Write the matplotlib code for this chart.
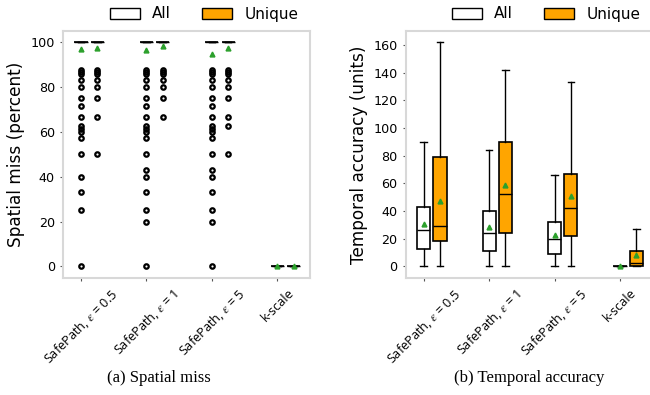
import matplotlib
matplotlib.use("Agg")
import matplotlib.pyplot as plt
from matplotlib.patches import Patch

plt.rcParams['mathtext.fontset'] = 'stix'

categories = ["SafePath, $\\varepsilon$ = 0.5", "SafePath, $\\varepsilon$ = 1",
              "SafePath, $\\varepsilon$ = 5", "k-scale"]
series = ["All", "Unique"]

# Spatial miss (percent): boxes collapse to a single value
spatial_all_level = [100, 100, 100, 0]
spatial_unique_level = [100, 100, 100, 0]
spatial_all_mean = [96.9, 96.6, 94.6, 0]
spatial_unique_mean = [97.5, 98.2, 97.6, 0]
spatial_all_fliers = [
    [87.5, 86.7, 85.7, 83.3, 80, 75, 71.4, 66.7, 62.5, 61.5, 60, 57.1, 50, 40, 33.3, 25, 0],
    [87.5, 86.7, 85.7, 83.3, 80, 75, 71.4, 66.7, 62.5, 61.5, 60, 57.1, 50, 42.9, 40, 33.3, 25, 20, 0],
    [87.5, 86.7, 85.7, 83.3, 80, 75, 71.4, 66.7, 62.5, 61.5, 60, 57.1, 50, 42.9, 40, 33.3, 25, 20, 0],
    [],
]
spatial_unique_fliers = [
    [87.5, 86.7, 85.7, 83.3, 80, 75, 66.7, 50],
    [87.5, 86.7, 85.7, 83.3, 80, 75, 66.7],
    [87.5, 86.7, 85.7, 83.3, 80, 75, 66.7, 62.5, 50],
    [],
]

# Temporal accuracy (units)
temporal_all_whislo = [0, 0, 0, 0]
temporal_all_q1 = [12.3, 11.3, 9.2, 0]
temporal_all_med = [26.3, 24.1, 20.2, 0]
temporal_all_q3 = [43.1, 40.2, 32.0, 0]
temporal_all_whishi = [90.1, 84.3, 66.3, 0]
temporal_all_mean = [30.4, 28.4, 23.1, 0]

temporal_unique_whislo = [0, 0, 0, 0]
temporal_unique_q1 = [18.1, 24.3, 22.2, 0]
temporal_unique_med = [28.9, 52.5, 41.9, 2.2]
temporal_unique_q3 = [79.0, 89.9, 66.5, 11.1]
temporal_unique_whishi = [161.9, 141.9, 133.3, 27.0]
temporal_unique_mean = [47.0, 58.8, 51.1, 8.0]

colors = {"All": "white", "Unique": "#ffa500"}
offsets = {"All": 0.0, "Unique": 0.25}
W, H = 650, 395
fig = plt.figure(figsize=(6.5, 3.95), dpi=100)

axL = fig.add_axes([63.3 / W, 1 - 277.7 / H, 246.7 / W, 246.7 / H])
axR = fig.add_axes([406.0 / W, 1 - 277.7 / H, 246.7 / W, 246.7 / H])


def draw(ax, stats_by_series):
    for s in series:
        pos = [i + offsets[s] for i in range(len(categories))]
        ax.bxp(stats_by_series[s], positions=pos, widths=0.2, patch_artist=True,
               showmeans=True, showfliers=True, manage_ticks=False,
               boxprops=dict(facecolor=colors[s], edgecolor='black', linewidth=1.2),
               medianprops=dict(color='black', linewidth=1.0),
               whiskerprops=dict(color='black', linewidth=1.0),
               capprops=dict(color='black', linewidth=1.0),
               meanprops=dict(marker='^', markerfacecolor='#2ca02c',
                              markeredgecolor='#2ca02c', markersize=3.5),
               flierprops=dict(marker='o', markerfacecolor='none',
                               markeredgecolor='black', markersize=3.2,
                               markeredgewidth=1.6))
    ax.set_xticks(range(len(categories)))
    ax.set_xticklabels(categories, rotation=45, ha='center',
                       fontfamily='Open Sans', fontsize=9)
    ax.set_xlim(-0.27, 3.5)
    for sp in ax.spines.values():
        sp.set_color('#d8d8d8')
        sp.set_linewidth(1.5)
    ax.tick_params(axis='both', length=2.5, width=0.8, color='#555555',
                   labelsize=9.2)


spatial = {}
for s, lev, mn, fl in [("All", spatial_all_level, spatial_all_mean, spatial_all_fliers),
                       ("Unique", spatial_unique_level, spatial_unique_mean, spatial_unique_fliers)]:
    spatial[s] = [dict(med=lev[i], q1=lev[i], q3=lev[i], whislo=lev[i], whishi=lev[i],
                       mean=mn[i], fliers=fl[i]) for i in range(len(categories))]
draw(axL, spatial)
axL.set_ylim(-5, 105)
axL.set_yticks([0, 20, 40, 60, 80, 100])
axL.set_ylabel("Spatial miss (percent)", fontsize=12.2)

temporal = {
    "All": [dict(med=temporal_all_med[i], q1=temporal_all_q1[i], q3=temporal_all_q3[i],
                 whislo=temporal_all_whislo[i], whishi=temporal_all_whishi[i],
                 mean=temporal_all_mean[i], fliers=[]) for i in range(len(categories))],
    "Unique": [dict(med=temporal_unique_med[i], q1=temporal_unique_q1[i], q3=temporal_unique_q3[i],
                    whislo=temporal_unique_whislo[i], whishi=temporal_unique_whishi[i],
                    mean=temporal_unique_mean[i], fliers=[]) for i in range(len(categories))],
}
draw(axR, temporal)
axR.set_ylim(-8.1, 170.1)
axR.set_yticks(range(0, 161, 20))
axR.set_ylabel("Temporal accuracy (units)", fontsize=12.2)

for cx in (204, 546):
    handles = [Patch(facecolor=colors[s], edgecolor='black', linewidth=1.0, label=s) for s in series]
    fig.legend(handles=handles, loc='center', ncol=2, frameon=False, fontsize=11,
               bbox_to_anchor=(cx / W, 1 - 14 / H), handlelength=2.0,
               handletextpad=0.8, columnspacing=2.0)

fig.text(159 / W, 1 - 378 / H, "(a) Spatial miss", ha='center', va='center',
         fontfamily='Liberation Serif', fontsize=12)
fig.text(529 / W, 1 - 378 / H, "(b) Temporal accuracy", ha='center', va='center',
         fontfamily='Liberation Serif', fontsize=12)

fig.savefig("out.png", dpi=100)
